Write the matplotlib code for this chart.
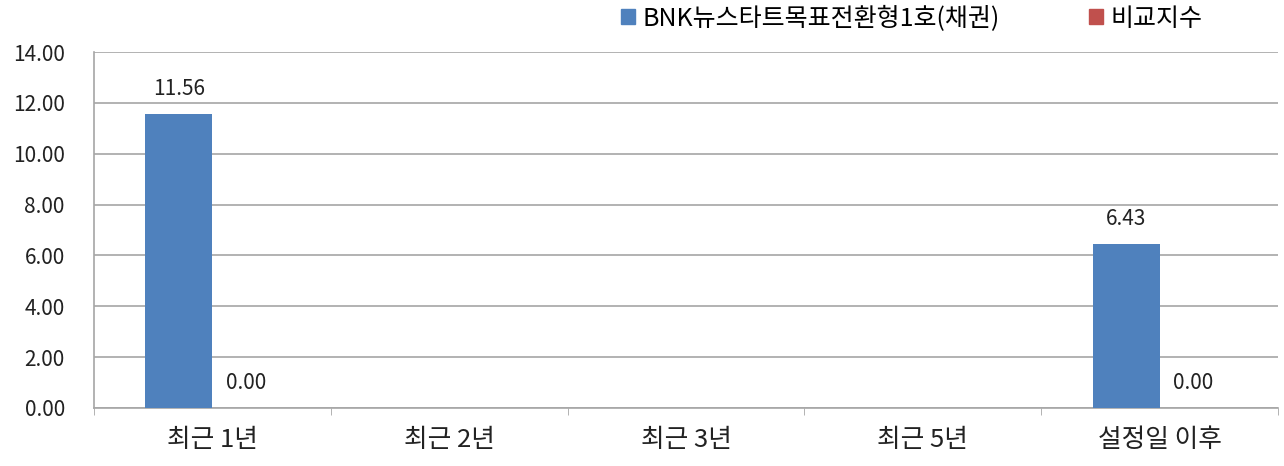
import matplotlib
matplotlib.use("Agg")
import matplotlib.pyplot as plt
from matplotlib.patches import Patch
import numpy as np

plt.rcParams['font.family'] = ['Noto Sans CJK KR', 'DejaVu Sans']

categories = ["최근 1년", "최근 2년", "최근 3년", "최근 5년", "설정일 이후"]
fund_name = "BNK뉴스타트목표전환형1호(채권)"
bench_name = "비교지수"
fund_values = [11.56, np.nan, np.nan, np.nan, 6.43]
bench_values = [0.00, np.nan, np.nan, np.nan, 0.00]
y_ticks = [0, 2, 4, 6, 8, 10, 12, 14]

BLUE = "#4F81BD"
RED = "#C0504D"
GRID = "#a6a6a6"
TXT = "#222222"

fig = plt.figure(figsize=(12.84, 4.66), dpi=100)
ax = fig.add_axes([0.0732, 0.1245, 0.9221, 0.7639])

x = np.arange(len(categories))
w = 0.283
ax.bar(x - w / 2, fund_values, w, color=BLUE, zorder=3)
ax.bar(x + w / 2, bench_values, w, color=RED, zorder=3)

for xi, v in zip(x, fund_values):
    if not np.isnan(v):
        ax.annotate(f"{v:.2f}", (xi - w / 2, v), xytext=(0, 18), textcoords="offset points",
                    ha="center", va="center", fontsize=15, color=TXT)
for xi, v in zip(x, bench_values):
    if not np.isnan(v):
        ax.annotate(f"{v:.2f}", (xi + w / 2, v), xytext=(0, 18), textcoords="offset points",
                    ha="center", va="center", fontsize=15, color=TXT)

ax.set_xlim(-0.5, len(categories) - 0.5)
ax.set_ylim(0, 14)
ax.set_yticks(y_ticks)
ax.set_yticklabels([f"{t:.2f}" for t in y_ticks], fontsize=15, color=TXT)
ax.set_xticks(x)
ax.set_xticklabels(categories, fontsize=18.5, color=TXT)
ax.set_xticks(np.arange(-0.5, len(categories)), minor=True)
ax.tick_params(axis="x", which="major", length=0, pad=14)
ax.tick_params(axis="x", which="minor", length=5, color=GRID, direction="out")
ax.tick_params(axis="y", length=0, pad=21)

ax.grid(axis="y", color=GRID, linewidth=1.2, zorder=0)
for s in ["top", "right"]:
    ax.spines[s].set_visible(False)
for s in ["left", "bottom"]:
    ax.spines[s].set_color(GRID)
    ax.spines[s].set_linewidth(1.2)

handles = [Patch(color=BLUE, label=fund_name), Patch(color=RED, label=bench_name)]
fig.legend(handles=handles, loc="center", bbox_to_anchor=(0.71, 0.96), ncol=2,
           frameon=False, fontsize=18, handlelength=0.55, handleheight=0.55,
           handletextpad=0.3, columnspacing=3.6)

fig.savefig("out.png", dpi=100)
